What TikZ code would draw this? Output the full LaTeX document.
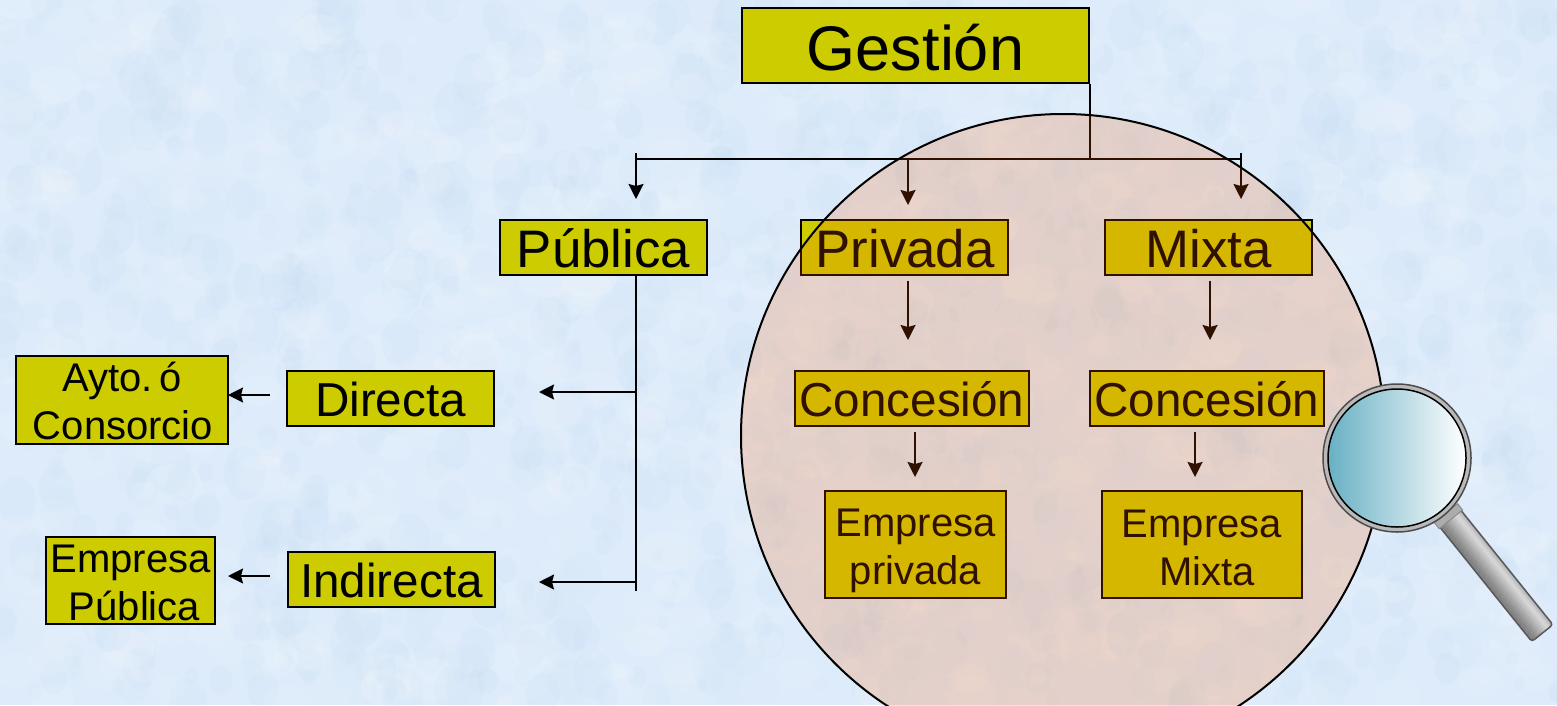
\documentclass[tikz,border=0pt]{standalone}
\usepackage{fontspec}
\setmainfont{Liberation Sans}
\usetikzlibrary{arrows.meta}

\definecolor{fondo}{RGB}{221,235,250}
\definecolor{mancha}{RGB}{190,218,245}
\definecolor{caja}{RGB}{204,204,0}
\definecolor{lupa}{RGB}{255,95,0}
\definecolor{vidrio}{RGB}{104,176,196}

\newcommand{\baja}[1]{\rule{0pt}{#1pt}}

\tikzset{
  caja/.style={draw=black,line width=2pt,fill=caja,inner sep=0pt,align=center},
  grande/.style={caja,minimum width=207pt,minimum height=55pt,text height=39pt,text depth=0pt,font=\fontsize{52.8}{58}\selectfont},
  media/.style={grande,text height=36pt,font=\fontsize{47.6}{54}\selectfont},
  chica/.style={caja,font=\fontsize{40}{48}\selectfont},
  linea/.style={line width=2pt},
  flecha/.style={line width=2pt,-{Stealth[length=15pt,width=15pt,inset=2pt]}}
}

\begin{document}
\begin{tikzpicture}[x=1pt,y=-1pt]
\useasboundingbox (0,0) rectangle (1557,705);
\clip (0,0) rectangle (1557,705);

\fill[fondo] (0,0) rectangle (1557,705);
\pgfmathsetseed{4217}
\foreach \i in {1,...,1100}{
  \pgfmathsetmacro\bx{rnd*1557}
  \pgfmathsetmacro\by{rnd*705}
  \pgfmathsetmacro\br{5+rnd*16}
  \pgfmathsetmacro\bo{0.04+rnd*0.08}
  \fill[white,opacity=\bo] (\bx,\by) circle[x radius=\br*1.4,y radius=\br];
  \pgfmathsetmacro\bx{rnd*1557}
  \pgfmathsetmacro\by{rnd*705}
  \fill[mancha,opacity=\bo] (\bx,\by) circle[x radius=\br,y radius=\br*1.3];
}

\node[caja,minimum width=347pt,minimum height=75pt,text height=49pt,text depth=0pt,font=\fontsize{63}{70}\selectfont] (gestion) at (915.5,45.5) {Gestión};

\node[grande] (publica) at (603.5,247.5) {Pública};
\node[grande] (privada) at (904,247.5) {\hspace*{2pt}Privada};
\node[grande] (mixta) at (1208.5,247.5) {Mixta};

\node[media] (directa) at (390.5,398.5) {Directa};
\node[media] (indirecta) at (391.5,579.5) {Indirecta};
\node[media,minimum width=234pt] (concA) at (912,398.5) {Concesión};
\node[media,minimum width=234pt] (concB) at (1207,398.5) {Concesión};

\node[chica,minimum width=212pt,minimum height=88pt] (ayto) at (122,400) {\baja{32}Ayto.\hspace{6pt}ó\\\hspace*{2pt}Consorcio};
\node[chica,minimum width=169pt,minimum height=87pt] (empPub) at (130.5,580.5) {\baja{32}Empresa\\\hspace*{8pt}Pública};
\node[chica,minimum width=181pt,minimum height=107pt] (empPri) at (915.5,544.5) {\baja{40}Empresa\\privada};
\node[chica,minimum width=200pt,minimum height=107pt] (empMix) at (1202,544.5) {\baja{34}Empresa\\\hspace*{10pt}Mixta};

\coordinate (bus) at (1090,159);
\coordinate (busPub) at (636,159);
\coordinate (busPri) at (908,159);
\coordinate (busMix) at (1241,159);
\coordinate (finPub) at (636,591);
\coordinate (sd) at (636,392);
\coordinate (si) at (636,582);

\draw[linea] (gestion.south east) -- (bus);
\draw[linea] (busPub) -- (busMix);
\draw[flecha] (636,153) -- (636,199);
\draw[flecha] (busPri) -- (908,205);
\draw[flecha] (1241,153) -- (1241,199);

\draw[linea] (publica.south -| busPub) -- (finPub);
\draw[flecha] (sd) -- (539,392);
\draw[flecha] (si) -- (539,582);
\draw[flecha] (270,395) -- (228,395);
\draw[flecha] (270,576) -- (228,576);

\draw[flecha] (908,281) -- (908,340);
\draw[flecha] (1210,281) -- (1210,340);
\draw[flecha] (915,432) -- (915,477);
\draw[flecha] (1195,432) -- (1195,477);

\fill[lupa,opacity=0.19] (1063,436) circle (322);
\draw[line width=2pt] (1063,436) circle (322);

% lupa
\begin{scope}[shift={(1449,517)},rotate=-51.2]
\begin{scope}
\clip[rounded corners=3pt] (0,-13.5) rectangle (149,13.5);
\foreach \k/\g in {13/52,11/50,9/47,7/44,5/40,3/36,1/32,-1/28,-3/24,-5/20,-7/16,-9/18,-11/24,-13/30}
  \fill[black!\g] (0,\k-1) rectangle (149,\k+1.1);
\end{scope}
\draw[black!65,line width=1.5pt,rounded corners=3pt] (0,-13.5) rectangle (149,13.5);
\fill[gray!65,draw=black!45,line width=1pt] (-5,-15) rectangle (3,15);
\end{scope}
\fill[gray!55,draw=black!70,line width=1.5pt] (1397,458) circle (74);
\shade[left color=vidrio,right color=white,draw=black,line width=1.5pt] (1397,458) circle (69);

\end{tikzpicture}
\end{document}
